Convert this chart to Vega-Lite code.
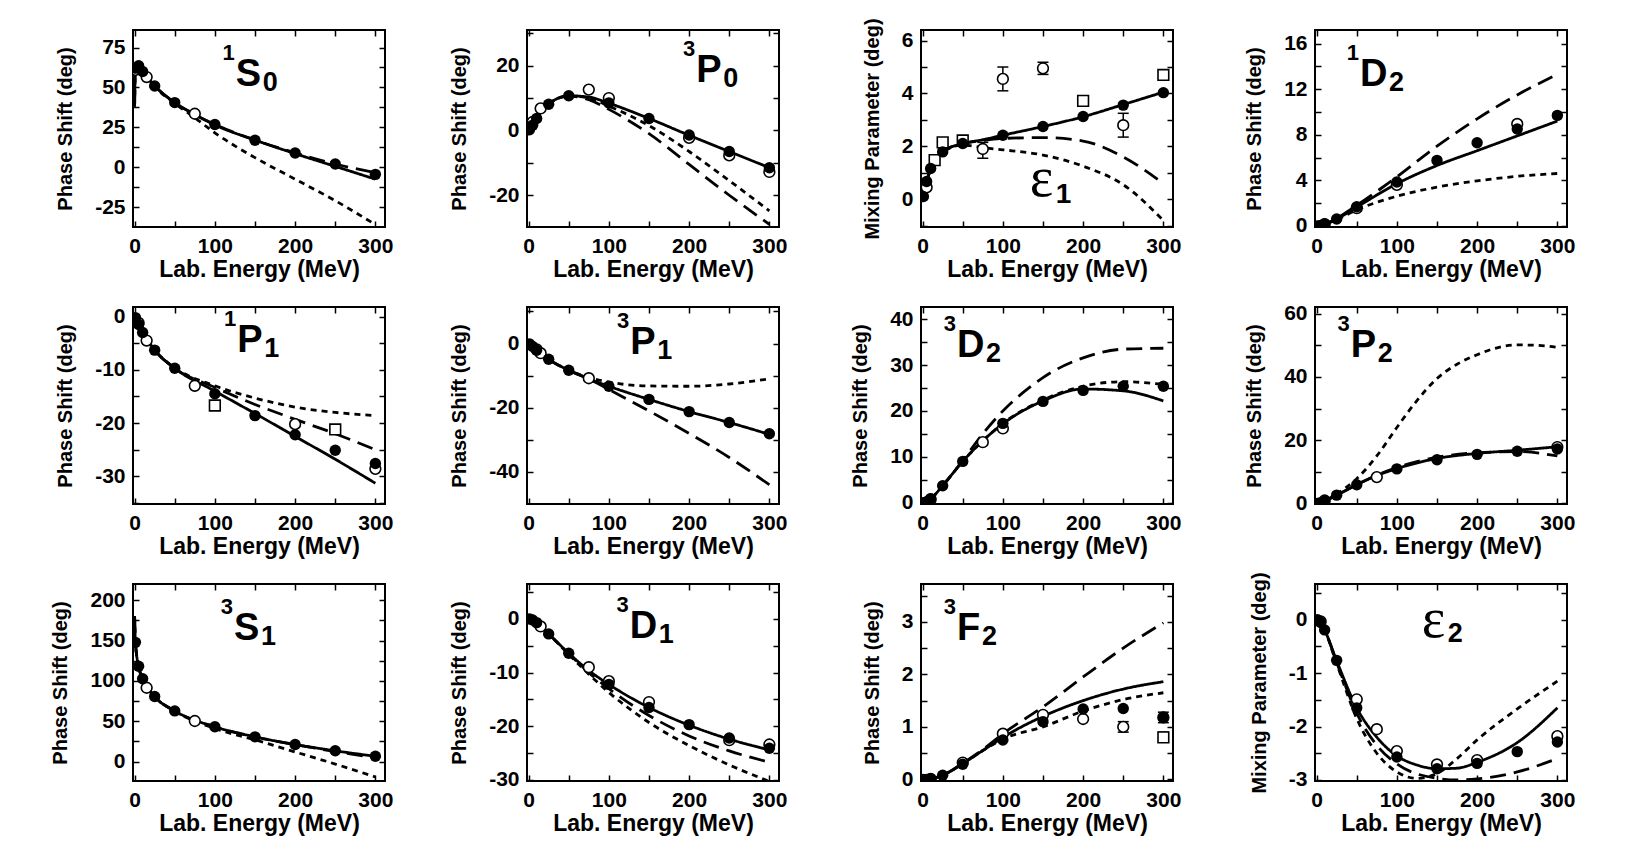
{
"$schema": "https://vega.github.io/schema/vega-lite/v6.json",
"background": "white",
"padding": {"left": 49, "top": 16, "right": 5, "bottom": 5},
"columns": 4,
"spacing": {"row": 80, "column": 142},
"bounds": "flush",
"datasets": {
"curves": [
{"p":"1S0","s":"solid","x":0,"y":38},{"p":"1S0","s":"solid","x":0.5,"y":55},{"p":"1S0","s":"solid","x":1,"y":62},{"p":"1S0","s":"solid","x":5,"y":63.5},{"p":"1S0","s":"solid","x":10,"y":60},{"p":"1S0","s":"solid","x":25,"y":51},{"p":"1S0","s":"solid","x":50,"y":40.5},{"p":"1S0","s":"solid","x":75,"y":33},{"p":"1S0","s":"solid","x":100,"y":26.5},{"p":"1S0","s":"solid","x":150,"y":17},{"p":"1S0","s":"solid","x":200,"y":8.5},{"p":"1S0","s":"solid","x":250,"y":0.5},{"p":"1S0","s":"solid","x":300,"y":-7.5},
{"p":"1S0","s":"dashed","x":0,"y":38},{"p":"1S0","s":"dashed","x":0.5,"y":55},{"p":"1S0","s":"dashed","x":1,"y":62},{"p":"1S0","s":"dashed","x":5,"y":63.5},{"p":"1S0","s":"dashed","x":10,"y":60},{"p":"1S0","s":"dashed","x":25,"y":51},{"p":"1S0","s":"dashed","x":50,"y":40.5},{"p":"1S0","s":"dashed","x":75,"y":33},{"p":"1S0","s":"dashed","x":100,"y":26.8},{"p":"1S0","s":"dashed","x":150,"y":17},{"p":"1S0","s":"dashed","x":200,"y":9},{"p":"1S0","s":"dashed","x":250,"y":2},{"p":"1S0","s":"dashed","x":300,"y":-3.5},
{"p":"1S0","s":"dotted","x":0,"y":38},{"p":"1S0","s":"dotted","x":0.5,"y":55},{"p":"1S0","s":"dotted","x":1,"y":62},{"p":"1S0","s":"dotted","x":5,"y":63.5},{"p":"1S0","s":"dotted","x":10,"y":60},{"p":"1S0","s":"dotted","x":25,"y":50.5},{"p":"1S0","s":"dotted","x":50,"y":40},{"p":"1S0","s":"dotted","x":75,"y":31},{"p":"1S0","s":"dotted","x":100,"y":21.5},{"p":"1S0","s":"dotted","x":150,"y":6},{"p":"1S0","s":"dotted","x":200,"y":-7.5},{"p":"1S0","s":"dotted","x":250,"y":-21},{"p":"1S0","s":"dotted","x":300,"y":-36},

{"p":"3P0","s":"solid","x":0,"y":0},{"p":"3P0","s":"solid","x":5,"y":1.7},{"p":"3P0","s":"solid","x":10,"y":3.7},{"p":"3P0","s":"solid","x":25,"y":8.1},{"p":"3P0","s":"solid","x":50,"y":10.7},{"p":"3P0","s":"solid","x":75,"y":10.3},{"p":"3P0","s":"solid","x":100,"y":8.4},{"p":"3P0","s":"solid","x":150,"y":3.7},{"p":"3P0","s":"solid","x":200,"y":-1.5},{"p":"3P0","s":"solid","x":250,"y":-6.5},{"p":"3P0","s":"solid","x":300,"y":-11.5},
{"p":"3P0","s":"dashed","x":0,"y":0},{"p":"3P0","s":"dashed","x":5,"y":1.7},{"p":"3P0","s":"dashed","x":10,"y":3.7},{"p":"3P0","s":"dashed","x":25,"y":8.1},{"p":"3P0","s":"dashed","x":50,"y":10.6},{"p":"3P0","s":"dashed","x":75,"y":9.5},{"p":"3P0","s":"dashed","x":100,"y":6.5},{"p":"3P0","s":"dashed","x":150,"y":-1},{"p":"3P0","s":"dashed","x":200,"y":-10.5},{"p":"3P0","s":"dashed","x":250,"y":-20},{"p":"3P0","s":"dashed","x":300,"y":-29},
{"p":"3P0","s":"dotted","x":0,"y":0},{"p":"3P0","s":"dotted","x":5,"y":1.7},{"p":"3P0","s":"dotted","x":10,"y":3.7},{"p":"3P0","s":"dotted","x":25,"y":8.1},{"p":"3P0","s":"dotted","x":50,"y":10.6},{"p":"3P0","s":"dotted","x":75,"y":10},{"p":"3P0","s":"dotted","x":100,"y":7.5},{"p":"3P0","s":"dotted","x":150,"y":1.5},{"p":"3P0","s":"dotted","x":200,"y":-6.5},{"p":"3P0","s":"dotted","x":250,"y":-15.5},{"p":"3P0","s":"dotted","x":300,"y":-24.8},

{"p":"E1","s":"solid","x":0,"y":0},{"p":"E1","s":"solid","x":1,"y":0.1},{"p":"E1","s":"solid","x":5,"y":0.65},{"p":"E1","s":"solid","x":10,"y":1.15},{"p":"E1","s":"solid","x":25,"y":1.8},{"p":"E1","s":"solid","x":50,"y":2.1},{"p":"E1","s":"solid","x":75,"y":2.25},{"p":"E1","s":"solid","x":100,"y":2.42},{"p":"E1","s":"solid","x":150,"y":2.75},{"p":"E1","s":"solid","x":200,"y":3.12},{"p":"E1","s":"solid","x":250,"y":3.58},{"p":"E1","s":"solid","x":300,"y":4.05},
{"p":"E1","s":"dashed","x":0,"y":0},{"p":"E1","s":"dashed","x":1,"y":0.1},{"p":"E1","s":"dashed","x":5,"y":0.65},{"p":"E1","s":"dashed","x":10,"y":1.15},{"p":"E1","s":"dashed","x":25,"y":1.8},{"p":"E1","s":"dashed","x":50,"y":2.1},{"p":"E1","s":"dashed","x":75,"y":2.22},{"p":"E1","s":"dashed","x":100,"y":2.3},{"p":"E1","s":"dashed","x":150,"y":2.33},{"p":"E1","s":"dashed","x":200,"y":2.2},{"p":"E1","s":"dashed","x":250,"y":1.6},{"p":"E1","s":"dashed","x":300,"y":0.6},
{"p":"E1","s":"dotted","x":0,"y":0},{"p":"E1","s":"dotted","x":1,"y":0.1},{"p":"E1","s":"dotted","x":5,"y":0.65},{"p":"E1","s":"dotted","x":10,"y":1.15},{"p":"E1","s":"dotted","x":25,"y":1.78},{"p":"E1","s":"dotted","x":50,"y":2.05},{"p":"E1","s":"dotted","x":75,"y":1.95},{"p":"E1","s":"dotted","x":100,"y":1.87},{"p":"E1","s":"dotted","x":150,"y":1.67},{"p":"E1","s":"dotted","x":200,"y":1.25},{"p":"E1","s":"dotted","x":250,"y":0.55},{"p":"E1","s":"dotted","x":300,"y":-0.8},

{"p":"1D2","s":"solid","x":0,"y":0},{"p":"1D2","s":"solid","x":10,"y":0.15},{"p":"1D2","s":"solid","x":25,"y":0.6},{"p":"1D2","s":"solid","x":50,"y":1.65},{"p":"1D2","s":"solid","x":100,"y":3.7},{"p":"1D2","s":"solid","x":150,"y":5.3},{"p":"1D2","s":"solid","x":200,"y":6.6},{"p":"1D2","s":"solid","x":250,"y":7.9},{"p":"1D2","s":"solid","x":300,"y":9.2},
{"p":"1D2","s":"dashed","x":0,"y":0},{"p":"1D2","s":"dashed","x":10,"y":0.15},{"p":"1D2","s":"dashed","x":25,"y":0.65},{"p":"1D2","s":"dashed","x":50,"y":1.8},{"p":"1D2","s":"dashed","x":100,"y":4.3},{"p":"1D2","s":"dashed","x":150,"y":7},{"p":"1D2","s":"dashed","x":200,"y":9.4},{"p":"1D2","s":"dashed","x":250,"y":11.5},{"p":"1D2","s":"dashed","x":300,"y":13.3},
{"p":"1D2","s":"dotted","x":0,"y":0},{"p":"1D2","s":"dotted","x":10,"y":0.15},{"p":"1D2","s":"dotted","x":25,"y":0.55},{"p":"1D2","s":"dotted","x":50,"y":1.4},{"p":"1D2","s":"dotted","x":100,"y":2.6},{"p":"1D2","s":"dotted","x":150,"y":3.4},{"p":"1D2","s":"dotted","x":200,"y":3.95},{"p":"1D2","s":"dotted","x":250,"y":4.35},{"p":"1D2","s":"dotted","x":300,"y":4.6},

{"p":"1P1","s":"solid","x":0,"y":0},{"p":"1P1","s":"solid","x":1,"y":-0.2},{"p":"1P1","s":"solid","x":5,"y":-1.5},{"p":"1P1","s":"solid","x":10,"y":-3},{"p":"1P1","s":"solid","x":25,"y":-6.3},{"p":"1P1","s":"solid","x":50,"y":-9.7},{"p":"1P1","s":"solid","x":100,"y":-14},{"p":"1P1","s":"solid","x":150,"y":-18.2},{"p":"1P1","s":"solid","x":200,"y":-22.5},{"p":"1P1","s":"solid","x":250,"y":-26.8},{"p":"1P1","s":"solid","x":300,"y":-31.3},
{"p":"1P1","s":"dashed","x":0,"y":0},{"p":"1P1","s":"dashed","x":1,"y":-0.2},{"p":"1P1","s":"dashed","x":5,"y":-1.5},{"p":"1P1","s":"dashed","x":10,"y":-3},{"p":"1P1","s":"dashed","x":25,"y":-6.3},{"p":"1P1","s":"dashed","x":50,"y":-9.7},{"p":"1P1","s":"dashed","x":100,"y":-13.3},{"p":"1P1","s":"dashed","x":150,"y":-16.5},{"p":"1P1","s":"dashed","x":200,"y":-19.3},{"p":"1P1","s":"dashed","x":250,"y":-22},{"p":"1P1","s":"dashed","x":300,"y":-25},
{"p":"1P1","s":"dotted","x":0,"y":0},{"p":"1P1","s":"dotted","x":1,"y":-0.2},{"p":"1P1","s":"dotted","x":5,"y":-1.5},{"p":"1P1","s":"dotted","x":10,"y":-3},{"p":"1P1","s":"dotted","x":25,"y":-6.3},{"p":"1P1","s":"dotted","x":50,"y":-9.6},{"p":"1P1","s":"dotted","x":100,"y":-13},{"p":"1P1","s":"dotted","x":150,"y":-15.3},{"p":"1P1","s":"dotted","x":200,"y":-17},{"p":"1P1","s":"dotted","x":250,"y":-18},{"p":"1P1","s":"dotted","x":300,"y":-18.6},

{"p":"3P1","s":"solid","x":0,"y":0},{"p":"3P1","s":"solid","x":10,"y":-2},{"p":"3P1","s":"solid","x":25,"y":-4.9},{"p":"3P1","s":"solid","x":50,"y":-8.3},{"p":"3P1","s":"solid","x":75,"y":-11},{"p":"3P1","s":"solid","x":100,"y":-13.3},{"p":"3P1","s":"solid","x":150,"y":-17.4},{"p":"3P1","s":"solid","x":200,"y":-21.2},{"p":"3P1","s":"solid","x":250,"y":-24.6},{"p":"3P1","s":"solid","x":300,"y":-28.3},
{"p":"3P1","s":"dashed","x":0,"y":0},{"p":"3P1","s":"dashed","x":10,"y":-2},{"p":"3P1","s":"dashed","x":25,"y":-4.9},{"p":"3P1","s":"dashed","x":50,"y":-8.3},{"p":"3P1","s":"dashed","x":75,"y":-11},{"p":"3P1","s":"dashed","x":100,"y":-14.3},{"p":"3P1","s":"dashed","x":150,"y":-21},{"p":"3P1","s":"dashed","x":200,"y":-28},{"p":"3P1","s":"dashed","x":250,"y":-35.5},{"p":"3P1","s":"dashed","x":300,"y":-44},
{"p":"3P1","s":"dotted","x":0,"y":0},{"p":"3P1","s":"dotted","x":10,"y":-2},{"p":"3P1","s":"dotted","x":25,"y":-4.9},{"p":"3P1","s":"dotted","x":50,"y":-8.3},{"p":"3P1","s":"dotted","x":75,"y":-10.6},{"p":"3P1","s":"dotted","x":100,"y":-12},{"p":"3P1","s":"dotted","x":150,"y":-13.2},{"p":"3P1","s":"dotted","x":200,"y":-13.3},{"p":"3P1","s":"dotted","x":250,"y":-12.6},{"p":"3P1","s":"dotted","x":300,"y":-11},

{"p":"3D2","s":"solid","x":0,"y":0},{"p":"3D2","s":"solid","x":10,"y":0.85},{"p":"3D2","s":"solid","x":25,"y":3.7},{"p":"3D2","s":"solid","x":50,"y":9},{"p":"3D2","s":"solid","x":75,"y":13.5},{"p":"3D2","s":"solid","x":100,"y":17.2},{"p":"3D2","s":"solid","x":150,"y":22.2},{"p":"3D2","s":"solid","x":200,"y":24.8},{"p":"3D2","s":"solid","x":250,"y":24.4},{"p":"3D2","s":"solid","x":300,"y":22.2},
{"p":"3D2","s":"dashed","x":0,"y":0},{"p":"3D2","s":"dashed","x":10,"y":0.85},{"p":"3D2","s":"dashed","x":25,"y":3.7},{"p":"3D2","s":"dashed","x":50,"y":9.2},{"p":"3D2","s":"dashed","x":75,"y":15},{"p":"3D2","s":"dashed","x":100,"y":20},{"p":"3D2","s":"dashed","x":125,"y":24},{"p":"3D2","s":"dashed","x":150,"y":27.3},{"p":"3D2","s":"dashed","x":200,"y":31.6},{"p":"3D2","s":"dashed","x":250,"y":33.5},{"p":"3D2","s":"dashed","x":300,"y":33.7},
{"p":"3D2","s":"dotted","x":0,"y":0},{"p":"3D2","s":"dotted","x":10,"y":0.85},{"p":"3D2","s":"dotted","x":25,"y":3.7},{"p":"3D2","s":"dotted","x":50,"y":9},{"p":"3D2","s":"dotted","x":75,"y":13.5},{"p":"3D2","s":"dotted","x":100,"y":17.3},{"p":"3D2","s":"dotted","x":150,"y":22.4},{"p":"3D2","s":"dotted","x":200,"y":25.4},{"p":"3D2","s":"dotted","x":250,"y":26.4},{"p":"3D2","s":"dotted","x":300,"y":25.8},

{"p":"3P2","s":"solid","x":0,"y":0},{"p":"3P2","s":"solid","x":10,"y":0.7},{"p":"3P2","s":"solid","x":25,"y":2.6},{"p":"3P2","s":"solid","x":50,"y":5.9},{"p":"3P2","s":"solid","x":75,"y":8.8},{"p":"3P2","s":"solid","x":100,"y":11},{"p":"3P2","s":"solid","x":150,"y":14.2},{"p":"3P2","s":"solid","x":200,"y":15.8},{"p":"3P2","s":"solid","x":250,"y":16.8},{"p":"3P2","s":"solid","x":300,"y":17.9},
{"p":"3P2","s":"dashed","x":0,"y":0},{"p":"3P2","s":"dashed","x":10,"y":0.7},{"p":"3P2","s":"dashed","x":25,"y":2.6},{"p":"3P2","s":"dashed","x":50,"y":5.9},{"p":"3P2","s":"dashed","x":75,"y":8.9},{"p":"3P2","s":"dashed","x":100,"y":11.3},{"p":"3P2","s":"dashed","x":150,"y":14.6},{"p":"3P2","s":"dashed","x":200,"y":16},{"p":"3P2","s":"dashed","x":250,"y":16.4},{"p":"3P2","s":"dashed","x":300,"y":15},
{"p":"3P2","s":"dotted","x":0,"y":0},{"p":"3P2","s":"dotted","x":10,"y":0.8},{"p":"3P2","s":"dotted","x":25,"y":3},{"p":"3P2","s":"dotted","x":50,"y":7.8},{"p":"3P2","s":"dotted","x":75,"y":15},{"p":"3P2","s":"dotted","x":100,"y":24},{"p":"3P2","s":"dotted","x":125,"y":32.5},{"p":"3P2","s":"dotted","x":150,"y":39.5},{"p":"3P2","s":"dotted","x":175,"y":44},{"p":"3P2","s":"dotted","x":200,"y":47},{"p":"3P2","s":"dotted","x":225,"y":49.2},{"p":"3P2","s":"dotted","x":250,"y":50.1},{"p":"3P2","s":"dotted","x":275,"y":50},{"p":"3P2","s":"dotted","x":300,"y":49.3},

{"p":"3S1","s":"solid","x":0,"y":180},{"p":"3S1","s":"solid","x":0.5,"y":160},{"p":"3S1","s":"solid","x":1,"y":148},{"p":"3S1","s":"solid","x":5,"y":118},{"p":"3S1","s":"solid","x":10,"y":102.6},{"p":"3S1","s":"solid","x":25,"y":80.6},{"p":"3S1","s":"solid","x":50,"y":62.8},{"p":"3S1","s":"solid","x":100,"y":43.2},{"p":"3S1","s":"solid","x":150,"y":30.7},{"p":"3S1","s":"solid","x":200,"y":21.2},{"p":"3S1","s":"solid","x":250,"y":13.4},{"p":"3S1","s":"solid","x":300,"y":6.6},
{"p":"3S1","s":"dashed","x":0,"y":180},{"p":"3S1","s":"dashed","x":0.5,"y":160},{"p":"3S1","s":"dashed","x":1,"y":148},{"p":"3S1","s":"dashed","x":5,"y":118},{"p":"3S1","s":"dashed","x":10,"y":102.6},{"p":"3S1","s":"dashed","x":25,"y":80.6},{"p":"3S1","s":"dashed","x":50,"y":62.8},{"p":"3S1","s":"dashed","x":100,"y":43.2},{"p":"3S1","s":"dashed","x":150,"y":30.5},{"p":"3S1","s":"dashed","x":200,"y":21},{"p":"3S1","s":"dashed","x":250,"y":12.5},{"p":"3S1","s":"dashed","x":300,"y":4.5},
{"p":"3S1","s":"dotted","x":0,"y":180},{"p":"3S1","s":"dotted","x":0.5,"y":160},{"p":"3S1","s":"dotted","x":1,"y":148},{"p":"3S1","s":"dotted","x":5,"y":118},{"p":"3S1","s":"dotted","x":10,"y":102.6},{"p":"3S1","s":"dotted","x":25,"y":80.6},{"p":"3S1","s":"dotted","x":50,"y":62.5},{"p":"3S1","s":"dotted","x":100,"y":41},{"p":"3S1","s":"dotted","x":150,"y":27},{"p":"3S1","s":"dotted","x":200,"y":12},{"p":"3S1","s":"dotted","x":250,"y":-3},{"p":"3S1","s":"dotted","x":300,"y":-19},

{"p":"3D1","s":"solid","x":0,"y":0},{"p":"3D1","s":"solid","x":10,"y":-0.7},{"p":"3D1","s":"solid","x":25,"y":-2.8},{"p":"3D1","s":"solid","x":50,"y":-6.4},{"p":"3D1","s":"solid","x":75,"y":-9.6},{"p":"3D1","s":"solid","x":100,"y":-12.2},{"p":"3D1","s":"solid","x":150,"y":-16.5},{"p":"3D1","s":"solid","x":200,"y":-19.8},{"p":"3D1","s":"solid","x":250,"y":-22.4},{"p":"3D1","s":"solid","x":300,"y":-24.4},
{"p":"3D1","s":"dashed","x":0,"y":0},{"p":"3D1","s":"dashed","x":10,"y":-0.7},{"p":"3D1","s":"dashed","x":25,"y":-2.8},{"p":"3D1","s":"dashed","x":50,"y":-6.5},{"p":"3D1","s":"dashed","x":75,"y":-10},{"p":"3D1","s":"dashed","x":100,"y":-13},{"p":"3D1","s":"dashed","x":150,"y":-18},{"p":"3D1","s":"dashed","x":200,"y":-21.8},{"p":"3D1","s":"dashed","x":250,"y":-24.6},{"p":"3D1","s":"dashed","x":300,"y":-26.7},
{"p":"3D1","s":"dotted","x":0,"y":0},{"p":"3D1","s":"dotted","x":10,"y":-0.7},{"p":"3D1","s":"dotted","x":25,"y":-2.8},{"p":"3D1","s":"dotted","x":50,"y":-6.6},{"p":"3D1","s":"dotted","x":75,"y":-10.3},{"p":"3D1","s":"dotted","x":100,"y":-13.7},{"p":"3D1","s":"dotted","x":150,"y":-19.3},{"p":"3D1","s":"dotted","x":200,"y":-23.6},{"p":"3D1","s":"dotted","x":250,"y":-27.2},{"p":"3D1","s":"dotted","x":300,"y":-30.3},

{"p":"3F2","s":"solid","x":0,"y":0},{"p":"3F2","s":"solid","x":10,"y":0.01},{"p":"3F2","s":"solid","x":25,"y":0.08},{"p":"3F2","s":"solid","x":50,"y":0.3},{"p":"3F2","s":"solid","x":75,"y":0.55},{"p":"3F2","s":"solid","x":100,"y":0.8},{"p":"3F2","s":"solid","x":150,"y":1.2},{"p":"3F2","s":"solid","x":200,"y":1.5},{"p":"3F2","s":"solid","x":250,"y":1.72},{"p":"3F2","s":"solid","x":300,"y":1.86},
{"p":"3F2","s":"dashed","x":0,"y":0},{"p":"3F2","s":"dashed","x":10,"y":0.01},{"p":"3F2","s":"dashed","x":25,"y":0.08},{"p":"3F2","s":"dashed","x":50,"y":0.31},{"p":"3F2","s":"dashed","x":75,"y":0.57},{"p":"3F2","s":"dashed","x":100,"y":0.87},{"p":"3F2","s":"dashed","x":150,"y":1.38},{"p":"3F2","s":"dashed","x":200,"y":1.95},{"p":"3F2","s":"dashed","x":250,"y":2.5},{"p":"3F2","s":"dashed","x":300,"y":2.98},
{"p":"3F2","s":"dotted","x":0,"y":0},{"p":"3F2","s":"dotted","x":10,"y":0.01},{"p":"3F2","s":"dotted","x":25,"y":0.08},{"p":"3F2","s":"dotted","x":50,"y":0.3},{"p":"3F2","s":"dotted","x":75,"y":0.55},{"p":"3F2","s":"dotted","x":100,"y":0.77},{"p":"3F2","s":"dotted","x":150,"y":1},{"p":"3F2","s":"dotted","x":200,"y":1.3},{"p":"3F2","s":"dotted","x":250,"y":1.52},{"p":"3F2","s":"dotted","x":300,"y":1.65},

{"p":"E2","s":"solid","x":0,"y":0},{"p":"E2","s":"solid","x":10,"y":-0.2},{"p":"E2","s":"solid","x":25,"y":-0.77},{"p":"E2","s":"solid","x":50,"y":-1.65},{"p":"E2","s":"solid","x":75,"y":-2.2},{"p":"E2","s":"solid","x":100,"y":-2.55},{"p":"E2","s":"solid","x":125,"y":-2.72},{"p":"E2","s":"solid","x":150,"y":-2.79},{"p":"E2","s":"solid","x":175,"y":-2.78},{"p":"E2","s":"solid","x":200,"y":-2.67},{"p":"E2","s":"solid","x":250,"y":-2.3},{"p":"E2","s":"solid","x":300,"y":-1.65},
{"p":"E2","s":"dashed","x":0,"y":0},{"p":"E2","s":"dashed","x":10,"y":-0.2},{"p":"E2","s":"dashed","x":25,"y":-0.8},{"p":"E2","s":"dashed","x":50,"y":-1.75},{"p":"E2","s":"dashed","x":75,"y":-2.35},{"p":"E2","s":"dashed","x":100,"y":-2.7},{"p":"E2","s":"dashed","x":150,"y":-2.97},{"p":"E2","s":"dashed","x":175,"y":-3},{"p":"E2","s":"dashed","x":200,"y":-2.98},{"p":"E2","s":"dashed","x":250,"y":-2.85},{"p":"E2","s":"dashed","x":300,"y":-2.6},
{"p":"E2","s":"dotted","x":0,"y":0},{"p":"E2","s":"dotted","x":10,"y":-0.2},{"p":"E2","s":"dotted","x":25,"y":-0.82},{"p":"E2","s":"dotted","x":50,"y":-1.85},{"p":"E2","s":"dotted","x":75,"y":-2.5},{"p":"E2","s":"dotted","x":100,"y":-2.85},{"p":"E2","s":"dotted","x":125,"y":-2.97},{"p":"E2","s":"dotted","x":150,"y":-2.88},{"p":"E2","s":"dotted","x":175,"y":-2.6},{"p":"E2","s":"dotted","x":200,"y":-2.25},{"p":"E2","s":"dotted","x":250,"y":-1.67},{"p":"E2","s":"dotted","x":300,"y":-1.15}
],
"pts": [
{"p":"1S0","k":"filled","x":1,"y":62.1},{"p":"1S0","k":"filled","x":5,"y":63.6},{"p":"1S0","k":"filled","x":10,"y":60},{"p":"1S0","k":"filled","x":25,"y":50.9},{"p":"1S0","k":"filled","x":50,"y":40.5},{"p":"1S0","k":"filled","x":100,"y":26.8},{"p":"1S0","k":"filled","x":150,"y":16.9},{"p":"1S0","k":"filled","x":200,"y":8.9},{"p":"1S0","k":"filled","x":250,"y":2},{"p":"1S0","k":"filled","x":300,"y":-4.5},
{"p":"1S0","k":"circle","x":1,"y":61},{"p":"1S0","k":"circle","x":15,"y":56.5},{"p":"1S0","k":"circle","x":75,"y":33.5},
{"p":"3P0","k":"filled","x":1,"y":0.2},{"p":"3P0","k":"filled","x":5,"y":1.6},{"p":"3P0","k":"filled","x":10,"y":3.7},{"p":"3P0","k":"filled","x":25,"y":8.1},{"p":"3P0","k":"filled","x":50,"y":10.7},{"p":"3P0","k":"filled","x":100,"y":8.5},{"p":"3P0","k":"filled","x":150,"y":3.7},{"p":"3P0","k":"filled","x":200,"y":-1.4},{"p":"3P0","k":"filled","x":250,"y":-6.5},{"p":"3P0","k":"filled","x":300,"y":-11.5},
{"p":"3P0","k":"circle","x":5,"y":2.6},{"p":"3P0","k":"circle","x":15,"y":6.8},{"p":"3P0","k":"circle","x":75,"y":12.6},{"p":"3P0","k":"circle","x":100,"y":10},{"p":"3P0","k":"circle","x":200,"y":-2.3},{"p":"3P0","k":"circle","x":250,"y":-7.7},{"p":"3P0","k":"circle","x":300,"y":-12.8},
{"p":"E1","k":"filled","x":1,"y":0.1},{"p":"E1","k":"filled","x":5,"y":0.67},{"p":"E1","k":"filled","x":10,"y":1.16},{"p":"E1","k":"filled","x":25,"y":1.79},{"p":"E1","k":"filled","x":50,"y":2.11},{"p":"E1","k":"filled","x":100,"y":2.42},{"p":"E1","k":"filled","x":150,"y":2.75},{"p":"E1","k":"filled","x":200,"y":3.13},{"p":"E1","k":"filled","x":250,"y":3.56},{"p":"E1","k":"filled","x":300,"y":4.03},
{"p":"E1","k":"circle","x":5,"y":0.45},{"p":"E1","k":"circle","x":75,"y":1.9,"lo":1.55,"hi":2.15},{"p":"E1","k":"circle","x":100,"y":4.55,"lo":4.1,"hi":5.0},{"p":"E1","k":"circle","x":150,"y":4.95,"lo":4.72,"hi":5.18},{"p":"E1","k":"circle","x":250,"y":2.8,"lo":2.35,"hi":3.25},
{"p":"E1","k":"square","x":15,"y":1.48},{"p":"E1","k":"square","x":25,"y":2.15,"lo":2.05,"hi":2.27},{"p":"E1","k":"square","x":50,"y":2.22,"lo":2.08,"hi":2.38},{"p":"E1","k":"square","x":200,"y":3.72,"lo":3.62,"hi":3.82},{"p":"E1","k":"square","x":300,"y":4.7,"lo":4.55,"hi":4.85},
{"p":"1D2","k":"filled","x":1,"y":0},{"p":"1D2","k":"filled","x":5,"y":0.04},{"p":"1D2","k":"filled","x":10,"y":0.17},{"p":"1D2","k":"filled","x":25,"y":0.6},{"p":"1D2","k":"filled","x":50,"y":1.68},{"p":"1D2","k":"filled","x":100,"y":3.85},{"p":"1D2","k":"filled","x":150,"y":5.75},{"p":"1D2","k":"filled","x":200,"y":7.3},{"p":"1D2","k":"filled","x":250,"y":8.5},{"p":"1D2","k":"filled","x":300,"y":9.7},
{"p":"1D2","k":"circle","x":10,"y":0.15},{"p":"1D2","k":"circle","x":50,"y":1.55},{"p":"1D2","k":"circle","x":100,"y":3.6},{"p":"1D2","k":"circle","x":250,"y":8.95},
{"p":"1P1","k":"filled","x":1,"y":-0.2},{"p":"1P1","k":"filled","x":5,"y":-1.5},{"p":"1P1","k":"filled","x":10,"y":-3},{"p":"1P1","k":"filled","x":25,"y":-6.3},{"p":"1P1","k":"filled","x":50,"y":-9.7},{"p":"1P1","k":"filled","x":100,"y":-14.5},{"p":"1P1","k":"filled","x":150,"y":-18.6},{"p":"1P1","k":"filled","x":200,"y":-22.2},{"p":"1P1","k":"filled","x":250,"y":-25.1},{"p":"1P1","k":"filled","x":300,"y":-27.6},
{"p":"1P1","k":"circle","x":5,"y":-1.2},{"p":"1P1","k":"circle","x":15,"y":-4.5},{"p":"1P1","k":"circle","x":75,"y":-13},{"p":"1P1","k":"circle","x":200,"y":-20.2},{"p":"1P1","k":"circle","x":300,"y":-28.6},
{"p":"1P1","k":"square","x":100,"y":-16.7},{"p":"1P1","k":"square","x":250,"y":-21.2,"lo":-21.7,"hi":-20.7},
{"p":"3P1","k":"filled","x":1,"y":-0.1},{"p":"3P1","k":"filled","x":5,"y":-0.9},{"p":"3P1","k":"filled","x":10,"y":-2.1},{"p":"3P1","k":"filled","x":25,"y":-4.9},{"p":"3P1","k":"filled","x":50,"y":-8.3},{"p":"3P1","k":"filled","x":100,"y":-13.3},{"p":"3P1","k":"filled","x":150,"y":-17.4},{"p":"3P1","k":"filled","x":200,"y":-21.2},{"p":"3P1","k":"filled","x":250,"y":-24.6},{"p":"3P1","k":"filled","x":300,"y":-28.1},
{"p":"3P1","k":"circle","x":10,"y":-1.8},{"p":"3P1","k":"circle","x":15,"y":-3},{"p":"3P1","k":"circle","x":75,"y":-10.8},
{"p":"3D2","k":"filled","x":1,"y":0},{"p":"3D2","k":"filled","x":5,"y":0.2},{"p":"3D2","k":"filled","x":10,"y":0.85},{"p":"3D2","k":"filled","x":25,"y":3.7},{"p":"3D2","k":"filled","x":50,"y":9},{"p":"3D2","k":"filled","x":100,"y":17.3},{"p":"3D2","k":"filled","x":150,"y":22.1},{"p":"3D2","k":"filled","x":200,"y":24.5},{"p":"3D2","k":"filled","x":250,"y":25.4},{"p":"3D2","k":"filled","x":300,"y":25.4},
{"p":"3D2","k":"circle","x":10,"y":0.7},{"p":"3D2","k":"circle","x":75,"y":13.2},{"p":"3D2","k":"circle","x":100,"y":16.2},
{"p":"3P2","k":"filled","x":1,"y":0},{"p":"3P2","k":"filled","x":5,"y":0.25},{"p":"3P2","k":"filled","x":10,"y":0.7},{"p":"3P2","k":"filled","x":25,"y":2.6},{"p":"3P2","k":"filled","x":50,"y":5.9},{"p":"3P2","k":"filled","x":100,"y":10.9},{"p":"3P2","k":"filled","x":150,"y":13.8},{"p":"3P2","k":"filled","x":200,"y":15.5},{"p":"3P2","k":"filled","x":250,"y":16.5},{"p":"3P2","k":"filled","x":300,"y":17.2},
{"p":"3P2","k":"circle","x":10,"y":0.9},{"p":"3P2","k":"circle","x":75,"y":8.3},{"p":"3P2","k":"circle","x":300,"y":17.8},
{"p":"3S1","k":"filled","x":1,"y":147.7},{"p":"3S1","k":"filled","x":5,"y":118.2},{"p":"3S1","k":"filled","x":10,"y":102.6},{"p":"3S1","k":"filled","x":25,"y":80.6},{"p":"3S1","k":"filled","x":50,"y":62.8},{"p":"3S1","k":"filled","x":100,"y":43.2},{"p":"3S1","k":"filled","x":150,"y":30.7},{"p":"3S1","k":"filled","x":200,"y":21.2},{"p":"3S1","k":"filled","x":250,"y":13.4},{"p":"3S1","k":"filled","x":300,"y":6.6},
{"p":"3S1","k":"circle","x":15,"y":91.5},{"p":"3S1","k":"circle","x":75,"y":50.3},
{"p":"3D1","k":"filled","x":1,"y":0},{"p":"3D1","k":"filled","x":5,"y":-0.2},{"p":"3D1","k":"filled","x":10,"y":-0.7},{"p":"3D1","k":"filled","x":25,"y":-2.8},{"p":"3D1","k":"filled","x":50,"y":-6.4},{"p":"3D1","k":"filled","x":100,"y":-12.2},{"p":"3D1","k":"filled","x":150,"y":-16.5},{"p":"3D1","k":"filled","x":200,"y":-19.7},{"p":"3D1","k":"filled","x":250,"y":-22.2},{"p":"3D1","k":"filled","x":300,"y":-24.1},
{"p":"3D1","k":"circle","x":15,"y":-1.4},{"p":"3D1","k":"circle","x":75,"y":-9},{"p":"3D1","k":"circle","x":100,"y":-11.6},{"p":"3D1","k":"circle","x":150,"y":-15.5},{"p":"3D1","k":"circle","x":250,"y":-22.6},{"p":"3D1","k":"circle","x":300,"y":-23.4},
{"p":"3F2","k":"filled","x":1,"y":0},{"p":"3F2","k":"filled","x":5,"y":0},{"p":"3F2","k":"filled","x":10,"y":0.01},{"p":"3F2","k":"filled","x":25,"y":0.08},{"p":"3F2","k":"filled","x":50,"y":0.29},{"p":"3F2","k":"filled","x":100,"y":0.75},{"p":"3F2","k":"filled","x":150,"y":1.1},{"p":"3F2","k":"filled","x":200,"y":1.34},{"p":"3F2","k":"filled","x":250,"y":1.35},{"p":"3F2","k":"filled","x":300,"y":1.18},
{"p":"3F2","k":"circle","x":10,"y":0.01},{"p":"3F2","k":"circle","x":50,"y":0.32},{"p":"3F2","k":"circle","x":100,"y":0.87},{"p":"3F2","k":"circle","x":150,"y":1.23},{"p":"3F2","k":"circle","x":200,"y":1.15},{"p":"3F2","k":"circle","x":250,"y":1,"lo":0.9,"hi":1.1},{"p":"3F2","k":"circle","x":300,"y":1.18,"lo":1.08,"hi":1.28},
{"p":"3F2","k":"square","x":300,"y":0.8,"lo":0.72,"hi":0.9},
{"p":"E2","k":"filled","x":1,"y":0},{"p":"E2","k":"filled","x":5,"y":-0.05},{"p":"E2","k":"filled","x":10,"y":-0.19},{"p":"E2","k":"filled","x":25,"y":-0.76},{"p":"E2","k":"filled","x":50,"y":-1.65},{"p":"E2","k":"filled","x":100,"y":-2.57},{"p":"E2","k":"filled","x":150,"y":-2.79},{"p":"E2","k":"filled","x":200,"y":-2.69},{"p":"E2","k":"filled","x":250,"y":-2.47},{"p":"E2","k":"filled","x":300,"y":-2.29},
{"p":"E2","k":"circle","x":5,"y":-0.03},{"p":"E2","k":"circle","x":50,"y":-1.49},{"p":"E2","k":"circle","x":75,"y":-2.05},{"p":"E2","k":"circle","x":100,"y":-2.46},{"p":"E2","k":"circle","x":150,"y":-2.71},{"p":"E2","k":"circle","x":200,"y":-2.63},{"p":"E2","k":"circle","x":300,"y":-2.18}
]
},
"concat": [
{"width":252,"height":197,"resolve":{"axis":{"x":"independent","y":"independent"}},"layer":[
 {"data":{"name":"curves"},"transform":[{"filter":"datum.p === '1S0'"}],"mark":{"type":"line","clip":true,"interpolate":"monotone","strokeWidth":2.8,"color":"black"},
  "encoding":{"x":{"field":"x","type":"quantitative","scale":{"domain":[-2,312],"nice":false},"axis":{"orient":"bottom","values":[0,50,100,150,200,250,300],"labelExpr":"datum.value % 100 === 0 ? '' + datum.value : ''","title":"Lab. Energy (MeV)"}},
   "y":{"field":"y","type":"quantitative","scale":{"domain":[-37.5,86],"nice":false,"zero":false},"axis":{"orient":"left","values":[-25,-12.5,0,12.5,25,37.5,50,62.5,75],"labelExpr":"datum.value % 25 === 0 ? '' + datum.value : ''","title":"Phase Shift (deg)"}},
   "strokeDash":{"field":"s","type":"nominal","scale":{"domain":["solid","dashed","dotted"],"range":[[1,0],[16,8],[6,5]]},"legend":null}}},
 {"data":{"name":"pts"},"transform":[{"filter":"datum.p === '1S0' && datum.k !== 'filled'"}],"mark":{"type":"point","clip":true,"filled":true,"fill":"white","stroke":"black","strokeWidth":1.6,"size":115,"opacity":1},
  "encoding":{"x":{"field":"x","type":"quantitative","axis":null},"y":{"field":"y","type":"quantitative","axis":null},"shape":{"field":"k","type":"nominal","scale":{"domain":["circle","square"],"range":["circle","square"]},"legend":null}}},
 {"data":{"name":"pts"},"transform":[{"filter":"datum.p === '1S0' && datum.k === 'filled'"}],"mark":{"type":"point","clip":true,"filled":true,"fill":"black","size":130,"opacity":1},
  "encoding":{"x":{"field":"x","type":"quantitative","axis":{"orient":"top","values":[0,50,100,150,200,250,300],"labels":false,"title":null}},"y":{"field":"y","type":"quantitative","axis":{"orient":"right","values":[-25,-12.5,0,12.5,25,37.5,50,62.5,75],"labels":false,"title":null}}}},
 {"data":{"values":[{}]},"mark":{"type":"text","text":"1","font":"Liberation Sans","fontWeight":"bold","fontSize":22,"align":"right","baseline":"alphabetic","dx":-1,"dy":-26},"encoding":{"x":{"datum":126,"type":"quantitative","axis":null},"y":{"datum":51,"type":"quantitative","axis":null}}},
 {"data":{"values":[{}]},"mark":{"type":"text","text":"S","font":"Liberation Sans","fontWeight":"bold","fontSize":38,"align":"left","baseline":"alphabetic"},"encoding":{"x":{"datum":126,"type":"quantitative","axis":null},"y":{"datum":51,"type":"quantitative","axis":null}}},
 {"data":{"values":[{}]},"mark":{"type":"text","text":"0","font":"Liberation Sans","fontWeight":"bold","fontSize":27,"align":"left","baseline":"alphabetic","dx":27,"dy":5},"encoding":{"x":{"datum":126,"type":"quantitative","axis":null},"y":{"datum":51,"type":"quantitative","axis":null}}}
]},
{"width":252,"height":197,"resolve":{"axis":{"x":"independent","y":"independent"}},"layer":[
 {"data":{"name":"curves"},"transform":[{"filter":"datum.p === '3P0'"}],"mark":{"type":"line","clip":true,"interpolate":"monotone","strokeWidth":2.8,"color":"black"},
  "encoding":{"x":{"field":"x","type":"quantitative","scale":{"domain":[-2,312],"nice":false},"axis":{"orient":"bottom","values":[0,50,100,150,200,250,300],"labelExpr":"datum.value % 100 === 0 ? '' + datum.value : ''","title":"Lab. Energy (MeV)"}},
   "y":{"field":"y","type":"quantitative","scale":{"domain":[-29.8,31],"nice":false,"zero":false},"axis":{"orient":"left","values":[-20,-10,0,10,20,30],"labelExpr":"datum.value % 20 === 0 ? '' + datum.value : ''","title":"Phase Shift (deg)"}},
   "strokeDash":{"field":"s","type":"nominal","scale":{"domain":["solid","dashed","dotted"],"range":[[1,0],[16,8],[6,5]]},"legend":null}}},
 {"data":{"name":"pts"},"transform":[{"filter":"datum.p === '3P0' && datum.k !== 'filled'"}],"mark":{"type":"point","clip":true,"filled":true,"fill":"white","stroke":"black","strokeWidth":1.6,"size":115,"opacity":1},
  "encoding":{"x":{"field":"x","type":"quantitative","axis":null},"y":{"field":"y","type":"quantitative","axis":null},"shape":{"field":"k","type":"nominal","scale":{"domain":["circle","square"],"range":["circle","square"]},"legend":null}}},
 {"data":{"name":"pts"},"transform":[{"filter":"datum.p === '3P0' && datum.k === 'filled'"}],"mark":{"type":"point","clip":true,"filled":true,"fill":"black","size":130,"opacity":1},
  "encoding":{"x":{"field":"x","type":"quantitative","axis":{"orient":"top","values":[0,50,100,150,200,250,300],"labels":false,"title":null}},"y":{"field":"y","type":"quantitative","axis":{"orient":"right","values":[-20,-10,0,10,20,30],"labels":false,"title":null}}}},
 {"data":{"values":[{}]},"mark":{"type":"text","text":"3","font":"Liberation Sans","fontWeight":"bold","fontSize":22,"align":"right","baseline":"alphabetic","dx":-1,"dy":-26},"encoding":{"x":{"datum":209,"type":"quantitative","axis":null},"y":{"datum":14.8,"type":"quantitative","axis":null}}},
 {"data":{"values":[{}]},"mark":{"type":"text","text":"P","font":"Liberation Sans","fontWeight":"bold","fontSize":38,"align":"left","baseline":"alphabetic"},"encoding":{"x":{"datum":209,"type":"quantitative","axis":null},"y":{"datum":14.8,"type":"quantitative","axis":null}}},
 {"data":{"values":[{}]},"mark":{"type":"text","text":"0","font":"Liberation Sans","fontWeight":"bold","fontSize":27,"align":"left","baseline":"alphabetic","dx":27,"dy":5},"encoding":{"x":{"datum":209,"type":"quantitative","axis":null},"y":{"datum":14.8,"type":"quantitative","axis":null}}}
]},
{"width":252,"height":197,"resolve":{"axis":{"x":"independent","y":"independent"}},"layer":[
 {"data":{"name":"curves"},"transform":[{"filter":"datum.p === 'E1'"}],"mark":{"type":"line","clip":true,"interpolate":"monotone","strokeWidth":2.8,"color":"black"},
  "encoding":{"x":{"field":"x","type":"quantitative","scale":{"domain":[-2,312],"nice":false},"axis":{"orient":"bottom","values":[0,50,100,150,200,250,300],"labelExpr":"datum.value % 100 === 0 ? '' + datum.value : ''","title":"Lab. Energy (MeV)"}},
   "y":{"field":"y","type":"quantitative","scale":{"domain":[-1.05,6.4],"nice":false,"zero":false},"axis":{"orient":"left","values":[-1,0,1,2,3,4,5,6],"labelExpr":"datum.value % 2 === 0 ? '' + datum.value : ''","title":"Mixing Parameter (deg)"}},
   "strokeDash":{"field":"s","type":"nominal","scale":{"domain":["solid","dashed","dotted"],"range":[[1,0],[16,8],[6,5]]},"legend":null}}},
 {"data":{"name":"pts"},"transform":[{"filter":"datum.p === 'E1' && isValid(datum.lo)"}],"mark":{"type":"rule","clip":true,"color":"black","strokeWidth":1.5},
  "encoding":{"x":{"field":"x","type":"quantitative","axis":null},"y":{"field":"lo","type":"quantitative","axis":null},"y2":{"field":"hi"}}},
 {"data":{"name":"pts"},"transform":[{"filter":"datum.p === 'E1' && isValid(datum.lo)"},{"fold":["lo","hi"],"as":["w","cy"]}],"mark":{"type":"point","clip":true,"shape":"M-1,0L1,0","size":121,"stroke":"black","strokeWidth":1.5,"opacity":1},
  "encoding":{"x":{"field":"x","type":"quantitative","axis":null},"y":{"field":"cy","type":"quantitative","axis":null}}},
 {"data":{"name":"pts"},"transform":[{"filter":"datum.p === 'E1' && datum.k !== 'filled'"}],"mark":{"type":"point","clip":true,"filled":true,"fill":"white","stroke":"black","strokeWidth":1.6,"size":115,"opacity":1},
  "encoding":{"x":{"field":"x","type":"quantitative","axis":null},"y":{"field":"y","type":"quantitative","axis":null},"shape":{"field":"k","type":"nominal","scale":{"domain":["circle","square"],"range":["circle","square"]},"legend":null}}},
 {"data":{"name":"pts"},"transform":[{"filter":"datum.p === 'E1' && datum.k === 'filled'"}],"mark":{"type":"point","clip":true,"filled":true,"fill":"black","size":130,"opacity":1},
  "encoding":{"x":{"field":"x","type":"quantitative","axis":{"orient":"top","values":[0,50,100,150,200,250,300],"labels":false,"title":null}},"y":{"field":"y","type":"quantitative","axis":{"orient":"right","values":[-1,0,1,2,3,4,5,6],"labels":false,"title":null}}}},
 {"data":{"values":[{}]},"mark":{"type":"text","text":"ε","font":"Liberation Serif","fontSize":56,"align":"left","baseline":"alphabetic"},"encoding":{"x":{"datum":133.6,"type":"quantitative","axis":null},"y":{"datum":0.12,"type":"quantitative","axis":null}}},
 {"data":{"values":[{}]},"mark":{"type":"text","text":"1","font":"Liberation Sans","fontWeight":"bold","fontSize":28,"align":"left","baseline":"alphabetic","dx":26,"dy":7},"encoding":{"x":{"datum":133.6,"type":"quantitative","axis":null},"y":{"datum":0.12,"type":"quantitative","axis":null}}}
]},
{"width":252,"height":197,"resolve":{"axis":{"x":"independent","y":"independent"}},"layer":[
 {"data":{"name":"curves"},"transform":[{"filter":"datum.p === '1D2'"}],"mark":{"type":"line","clip":true,"interpolate":"monotone","strokeWidth":2.8,"color":"black"},
  "encoding":{"x":{"field":"x","type":"quantitative","scale":{"domain":[-2,312],"nice":false},"axis":{"orient":"bottom","values":[0,50,100,150,200,250,300],"labelExpr":"datum.value % 100 === 0 ? '' + datum.value : ''","title":"Lab. Energy (MeV)"}},
   "y":{"field":"y","type":"quantitative","scale":{"domain":[-0.1,17.2],"nice":false,"zero":false},"axis":{"orient":"left","values":[0,2,4,6,8,10,12,14,16],"labelExpr":"datum.value % 4 === 0 ? '' + datum.value : ''","title":"Phase Shift (deg)"}},
   "strokeDash":{"field":"s","type":"nominal","scale":{"domain":["solid","dashed","dotted"],"range":[[1,0],[16,8],[6,5]]},"legend":null}}},
 {"data":{"name":"pts"},"transform":[{"filter":"datum.p === '1D2' && datum.k !== 'filled'"}],"mark":{"type":"point","clip":true,"filled":true,"fill":"white","stroke":"black","strokeWidth":1.6,"size":115,"opacity":1},
  "encoding":{"x":{"field":"x","type":"quantitative","axis":null},"y":{"field":"y","type":"quantitative","axis":null},"shape":{"field":"k","type":"nominal","scale":{"domain":["circle","square"],"range":["circle","square"]},"legend":null}}},
 {"data":{"name":"pts"},"transform":[{"filter":"datum.p === '1D2' && datum.k === 'filled'"}],"mark":{"type":"point","clip":true,"filled":true,"fill":"black","size":130,"opacity":1},
  "encoding":{"x":{"field":"x","type":"quantitative","axis":{"orient":"top","values":[0,50,100,150,200,250,300],"labels":false,"title":null}},"y":{"field":"y","type":"quantitative","axis":{"orient":"right","values":[0,2,4,6,8,10,12,14,16],"labels":false,"title":null}}}},
 {"data":{"values":[{}]},"mark":{"type":"text","text":"1","font":"Liberation Sans","fontWeight":"bold","fontSize":22,"align":"right","baseline":"alphabetic","dx":-1,"dy":-26},"encoding":{"x":{"datum":54,"type":"quantitative","axis":null},"y":{"datum":12.3,"type":"quantitative","axis":null}}},
 {"data":{"values":[{}]},"mark":{"type":"text","text":"D","font":"Liberation Sans","fontWeight":"bold","fontSize":38,"align":"left","baseline":"alphabetic"},"encoding":{"x":{"datum":54,"type":"quantitative","axis":null},"y":{"datum":12.3,"type":"quantitative","axis":null}}},
 {"data":{"values":[{}]},"mark":{"type":"text","text":"2","font":"Liberation Sans","fontWeight":"bold","fontSize":27,"align":"left","baseline":"alphabetic","dx":29,"dy":5},"encoding":{"x":{"datum":54,"type":"quantitative","axis":null},"y":{"datum":12.3,"type":"quantitative","axis":null}}}
]},
{"width":252,"height":197,"resolve":{"axis":{"x":"independent","y":"independent"}},"layer":[
 {"data":{"name":"curves"},"transform":[{"filter":"datum.p === '1P1'"}],"mark":{"type":"line","clip":true,"interpolate":"monotone","strokeWidth":2.8,"color":"black"},
  "encoding":{"x":{"field":"x","type":"quantitative","scale":{"domain":[-2,312],"nice":false},"axis":{"orient":"bottom","values":[0,50,100,150,200,250,300],"labelExpr":"datum.value % 100 === 0 ? '' + datum.value : ''","title":"Lab. Energy (MeV)"}},
   "y":{"field":"y","type":"quantitative","scale":{"domain":[-35.2,1.8],"nice":false,"zero":false},"axis":{"orient":"left","values":[-35,-30,-25,-20,-15,-10,-5,0],"labelExpr":"datum.value % 10 === 0 ? '' + datum.value : ''","title":"Phase Shift (deg)"}},
   "strokeDash":{"field":"s","type":"nominal","scale":{"domain":["solid","dashed","dotted"],"range":[[1,0],[16,8],[6,5]]},"legend":null}}},
 {"data":{"name":"pts"},"transform":[{"filter":"datum.p === '1P1' && isValid(datum.lo)"}],"mark":{"type":"rule","clip":true,"color":"black","strokeWidth":1.5},
  "encoding":{"x":{"field":"x","type":"quantitative","axis":null},"y":{"field":"lo","type":"quantitative","axis":null},"y2":{"field":"hi"}}},
 {"data":{"name":"pts"},"transform":[{"filter":"datum.p === '1P1' && isValid(datum.lo)"},{"fold":["lo","hi"],"as":["w","cy"]}],"mark":{"type":"point","clip":true,"shape":"M-1,0L1,0","size":121,"stroke":"black","strokeWidth":1.5,"opacity":1},
  "encoding":{"x":{"field":"x","type":"quantitative","axis":null},"y":{"field":"cy","type":"quantitative","axis":null}}},
 {"data":{"name":"pts"},"transform":[{"filter":"datum.p === '1P1' && datum.k !== 'filled'"}],"mark":{"type":"point","clip":true,"filled":true,"fill":"white","stroke":"black","strokeWidth":1.6,"size":115,"opacity":1},
  "encoding":{"x":{"field":"x","type":"quantitative","axis":null},"y":{"field":"y","type":"quantitative","axis":null},"shape":{"field":"k","type":"nominal","scale":{"domain":["circle","square"],"range":["circle","square"]},"legend":null}}},
 {"data":{"name":"pts"},"transform":[{"filter":"datum.p === '1P1' && datum.k === 'filled'"}],"mark":{"type":"point","clip":true,"filled":true,"fill":"black","size":130,"opacity":1},
  "encoding":{"x":{"field":"x","type":"quantitative","axis":{"orient":"top","values":[0,50,100,150,200,250,300],"labels":false,"title":null}},"y":{"field":"y","type":"quantitative","axis":{"orient":"right","values":[-35,-30,-25,-20,-15,-10,-5,0],"labels":false,"title":null}}}},
 {"data":{"values":[{}]},"mark":{"type":"text","text":"1","font":"Liberation Sans","fontWeight":"bold","fontSize":22,"align":"right","baseline":"alphabetic","dx":-1,"dy":-26},"encoding":{"x":{"datum":128,"type":"quantitative","axis":null},"y":{"datum":-6.7,"type":"quantitative","axis":null}}},
 {"data":{"values":[{}]},"mark":{"type":"text","text":"P","font":"Liberation Sans","fontWeight":"bold","fontSize":38,"align":"left","baseline":"alphabetic"},"encoding":{"x":{"datum":128,"type":"quantitative","axis":null},"y":{"datum":-6.7,"type":"quantitative","axis":null}}},
 {"data":{"values":[{}]},"mark":{"type":"text","text":"1","font":"Liberation Sans","fontWeight":"bold","fontSize":27,"align":"left","baseline":"alphabetic","dx":27,"dy":5},"encoding":{"x":{"datum":128,"type":"quantitative","axis":null},"y":{"datum":-6.7,"type":"quantitative","axis":null}}}
]},
{"width":252,"height":197,"resolve":{"axis":{"x":"independent","y":"independent"}},"layer":[
 {"data":{"name":"curves"},"transform":[{"filter":"datum.p === '3P1'"}],"mark":{"type":"line","clip":true,"interpolate":"monotone","strokeWidth":2.8,"color":"black"},
  "encoding":{"x":{"field":"x","type":"quantitative","scale":{"domain":[-2,312],"nice":false},"axis":{"orient":"bottom","values":[0,50,100,150,200,250,300],"labelExpr":"datum.value % 100 === 0 ? '' + datum.value : ''","title":"Lab. Energy (MeV)"}},
   "y":{"field":"y","type":"quantitative","scale":{"domain":[-50,11.4],"nice":false,"zero":false},"axis":{"orient":"left","values":[-40,-30,-20,-10,0,10],"labelExpr":"datum.value % 20 === 0 ? '' + datum.value : ''","title":"Phase Shift (deg)"}},
   "strokeDash":{"field":"s","type":"nominal","scale":{"domain":["solid","dashed","dotted"],"range":[[1,0],[16,8],[6,5]]},"legend":null}}},
 {"data":{"name":"pts"},"transform":[{"filter":"datum.p === '3P1' && datum.k !== 'filled'"}],"mark":{"type":"point","clip":true,"filled":true,"fill":"white","stroke":"black","strokeWidth":1.6,"size":115,"opacity":1},
  "encoding":{"x":{"field":"x","type":"quantitative","axis":null},"y":{"field":"y","type":"quantitative","axis":null},"shape":{"field":"k","type":"nominal","scale":{"domain":["circle","square"],"range":["circle","square"]},"legend":null}}},
 {"data":{"name":"pts"},"transform":[{"filter":"datum.p === '3P1' && datum.k === 'filled'"}],"mark":{"type":"point","clip":true,"filled":true,"fill":"black","size":130,"opacity":1},
  "encoding":{"x":{"field":"x","type":"quantitative","axis":{"orient":"top","values":[0,50,100,150,200,250,300],"labels":false,"title":null}},"y":{"field":"y","type":"quantitative","axis":{"orient":"right","values":[-40,-30,-20,-10,0,10],"labels":false,"title":null}}}},
 {"data":{"values":[{}]},"mark":{"type":"text","text":"3","font":"Liberation Sans","fontWeight":"bold","fontSize":22,"align":"right","baseline":"alphabetic","dx":-1,"dy":-26},"encoding":{"x":{"datum":126.7,"type":"quantitative","axis":null},"y":{"datum":-3.1,"type":"quantitative","axis":null}}},
 {"data":{"values":[{}]},"mark":{"type":"text","text":"P","font":"Liberation Sans","fontWeight":"bold","fontSize":38,"align":"left","baseline":"alphabetic"},"encoding":{"x":{"datum":126.7,"type":"quantitative","axis":null},"y":{"datum":-3.1,"type":"quantitative","axis":null}}},
 {"data":{"values":[{}]},"mark":{"type":"text","text":"1","font":"Liberation Sans","fontWeight":"bold","fontSize":27,"align":"left","baseline":"alphabetic","dx":27,"dy":5},"encoding":{"x":{"datum":126.7,"type":"quantitative","axis":null},"y":{"datum":-3.1,"type":"quantitative","axis":null}}}
]},
{"width":252,"height":197,"resolve":{"axis":{"x":"independent","y":"independent"}},"layer":[
 {"data":{"name":"curves"},"transform":[{"filter":"datum.p === '3D2'"}],"mark":{"type":"line","clip":true,"interpolate":"monotone","strokeWidth":2.8,"color":"black"},
  "encoding":{"x":{"field":"x","type":"quantitative","scale":{"domain":[-2,312],"nice":false},"axis":{"orient":"bottom","values":[0,50,100,150,200,250,300],"labelExpr":"datum.value % 100 === 0 ? '' + datum.value : ''","title":"Lab. Energy (MeV)"}},
   "y":{"field":"y","type":"quantitative","scale":{"domain":[-0.3,42.7],"nice":false,"zero":false},"axis":{"orient":"left","values":[0,5,10,15,20,25,30,35,40],"labelExpr":"datum.value % 10 === 0 ? '' + datum.value : ''","title":"Phase Shift (deg)"}},
   "strokeDash":{"field":"s","type":"nominal","scale":{"domain":["solid","dashed","dotted"],"range":[[1,0],[16,8],[6,5]]},"legend":null}}},
 {"data":{"name":"pts"},"transform":[{"filter":"datum.p === '3D2' && datum.k !== 'filled'"}],"mark":{"type":"point","clip":true,"filled":true,"fill":"white","stroke":"black","strokeWidth":1.6,"size":115,"opacity":1},
  "encoding":{"x":{"field":"x","type":"quantitative","axis":null},"y":{"field":"y","type":"quantitative","axis":null},"shape":{"field":"k","type":"nominal","scale":{"domain":["circle","square"],"range":["circle","square"]},"legend":null}}},
 {"data":{"name":"pts"},"transform":[{"filter":"datum.p === '3D2' && datum.k === 'filled'"}],"mark":{"type":"point","clip":true,"filled":true,"fill":"black","size":130,"opacity":1},
  "encoding":{"x":{"field":"x","type":"quantitative","axis":{"orient":"top","values":[0,50,100,150,200,250,300],"labels":false,"title":null}},"y":{"field":"y","type":"quantitative","axis":{"orient":"right","values":[0,5,10,15,20,25,30,35,40],"labels":false,"title":null}}}},
 {"data":{"values":[{}]},"mark":{"type":"text","text":"3","font":"Liberation Sans","fontWeight":"bold","fontSize":22,"align":"right","baseline":"alphabetic","dx":-1,"dy":-26},"encoding":{"x":{"datum":43,"type":"quantitative","axis":null},"y":{"datum":31.7,"type":"quantitative","axis":null}}},
 {"data":{"values":[{}]},"mark":{"type":"text","text":"D","font":"Liberation Sans","fontWeight":"bold","fontSize":38,"align":"left","baseline":"alphabetic"},"encoding":{"x":{"datum":43,"type":"quantitative","axis":null},"y":{"datum":31.7,"type":"quantitative","axis":null}}},
 {"data":{"values":[{}]},"mark":{"type":"text","text":"2","font":"Liberation Sans","fontWeight":"bold","fontSize":27,"align":"left","baseline":"alphabetic","dx":29,"dy":5},"encoding":{"x":{"datum":43,"type":"quantitative","axis":null},"y":{"datum":31.7,"type":"quantitative","axis":null}}}
]},
{"width":252,"height":197,"resolve":{"axis":{"x":"independent","y":"independent"}},"layer":[
 {"data":{"name":"curves"},"transform":[{"filter":"datum.p === '3P2'"}],"mark":{"type":"line","clip":true,"interpolate":"monotone","strokeWidth":2.8,"color":"black"},
  "encoding":{"x":{"field":"x","type":"quantitative","scale":{"domain":[-2,312],"nice":false},"axis":{"orient":"bottom","values":[0,50,100,150,200,250,300],"labelExpr":"datum.value % 100 === 0 ? '' + datum.value : ''","title":"Lab. Energy (MeV)"}},
   "y":{"field":"y","type":"quantitative","scale":{"domain":[-0.2,62.1],"nice":false,"zero":false},"axis":{"orient":"left","values":[0,10,20,30,40,50,60],"labelExpr":"datum.value % 20 === 0 ? '' + datum.value : ''","title":"Phase Shift (deg)"}},
   "strokeDash":{"field":"s","type":"nominal","scale":{"domain":["solid","dashed","dotted"],"range":[[1,0],[16,8],[6,5]]},"legend":null}}},
 {"data":{"name":"pts"},"transform":[{"filter":"datum.p === '3P2' && datum.k !== 'filled'"}],"mark":{"type":"point","clip":true,"filled":true,"fill":"white","stroke":"black","strokeWidth":1.6,"size":115,"opacity":1},
  "encoding":{"x":{"field":"x","type":"quantitative","axis":null},"y":{"field":"y","type":"quantitative","axis":null},"shape":{"field":"k","type":"nominal","scale":{"domain":["circle","square"],"range":["circle","square"]},"legend":null}}},
 {"data":{"name":"pts"},"transform":[{"filter":"datum.p === '3P2' && datum.k === 'filled'"}],"mark":{"type":"point","clip":true,"filled":true,"fill":"black","size":130,"opacity":1},
  "encoding":{"x":{"field":"x","type":"quantitative","axis":{"orient":"top","values":[0,50,100,150,200,250,300],"labels":false,"title":null}},"y":{"field":"y","type":"quantitative","axis":{"orient":"right","values":[0,10,20,30,40,50,60],"labels":false,"title":null}}}},
 {"data":{"values":[{}]},"mark":{"type":"text","text":"3","font":"Liberation Sans","fontWeight":"bold","fontSize":22,"align":"right","baseline":"alphabetic","dx":-1,"dy":-26},"encoding":{"x":{"datum":42.4,"type":"quantitative","axis":null},"y":{"datum":46.4,"type":"quantitative","axis":null}}},
 {"data":{"values":[{}]},"mark":{"type":"text","text":"P","font":"Liberation Sans","fontWeight":"bold","fontSize":38,"align":"left","baseline":"alphabetic"},"encoding":{"x":{"datum":42.4,"type":"quantitative","axis":null},"y":{"datum":46.4,"type":"quantitative","axis":null}}},
 {"data":{"values":[{}]},"mark":{"type":"text","text":"2","font":"Liberation Sans","fontWeight":"bold","fontSize":27,"align":"left","baseline":"alphabetic","dx":27,"dy":5},"encoding":{"x":{"datum":42.4,"type":"quantitative","axis":null},"y":{"datum":46.4,"type":"quantitative","axis":null}}}
]},
{"width":252,"height":197,"resolve":{"axis":{"x":"independent","y":"independent"}},"layer":[
 {"data":{"name":"curves"},"transform":[{"filter":"datum.p === '3S1'"}],"mark":{"type":"line","clip":true,"interpolate":"monotone","strokeWidth":2.8,"color":"black"},
  "encoding":{"x":{"field":"x","type":"quantitative","scale":{"domain":[-2,312],"nice":false},"axis":{"orient":"bottom","values":[0,50,100,150,200,250,300],"labelExpr":"datum.value % 100 === 0 ? '' + datum.value : ''","title":"Lab. Energy (MeV)"}},
   "y":{"field":"y","type":"quantitative","scale":{"domain":[-24,220],"nice":false,"zero":false},"axis":{"orient":"left","values":[0,25,50,75,100,125,150,175,200],"labelExpr":"datum.value % 50 === 0 ? '' + datum.value : ''","title":"Phase Shift (deg)"}},
   "strokeDash":{"field":"s","type":"nominal","scale":{"domain":["solid","dashed","dotted"],"range":[[1,0],[16,8],[6,5]]},"legend":null}}},
 {"data":{"name":"pts"},"transform":[{"filter":"datum.p === '3S1' && datum.k !== 'filled'"}],"mark":{"type":"point","clip":true,"filled":true,"fill":"white","stroke":"black","strokeWidth":1.6,"size":115,"opacity":1},
  "encoding":{"x":{"field":"x","type":"quantitative","axis":null},"y":{"field":"y","type":"quantitative","axis":null},"shape":{"field":"k","type":"nominal","scale":{"domain":["circle","square"],"range":["circle","square"]},"legend":null}}},
 {"data":{"name":"pts"},"transform":[{"filter":"datum.p === '3S1' && datum.k === 'filled'"}],"mark":{"type":"point","clip":true,"filled":true,"fill":"black","size":130,"opacity":1},
  "encoding":{"x":{"field":"x","type":"quantitative","axis":{"orient":"top","values":[0,50,100,150,200,250,300],"labels":false,"title":null}},"y":{"field":"y","type":"quantitative","axis":{"orient":"right","values":[0,25,50,75,100,125,150,175,200],"labels":false,"title":null}}}},
 {"data":{"values":[{}]},"mark":{"type":"text","text":"3","font":"Liberation Sans","fontWeight":"bold","fontSize":22,"align":"right","baseline":"alphabetic","dx":-1,"dy":-26},"encoding":{"x":{"datum":124,"type":"quantitative","axis":null},"y":{"datum":150.5,"type":"quantitative","axis":null}}},
 {"data":{"values":[{}]},"mark":{"type":"text","text":"S","font":"Liberation Sans","fontWeight":"bold","fontSize":38,"align":"left","baseline":"alphabetic"},"encoding":{"x":{"datum":124,"type":"quantitative","axis":null},"y":{"datum":150.5,"type":"quantitative","axis":null}}},
 {"data":{"values":[{}]},"mark":{"type":"text","text":"1","font":"Liberation Sans","fontWeight":"bold","fontSize":27,"align":"left","baseline":"alphabetic","dx":27,"dy":5},"encoding":{"x":{"datum":124,"type":"quantitative","axis":null},"y":{"datum":150.5,"type":"quantitative","axis":null}}}
]},
{"width":252,"height":197,"resolve":{"axis":{"x":"independent","y":"independent"}},"layer":[
 {"data":{"name":"curves"},"transform":[{"filter":"datum.p === '3D1'"}],"mark":{"type":"line","clip":true,"interpolate":"monotone","strokeWidth":2.8,"color":"black"},
  "encoding":{"x":{"field":"x","type":"quantitative","scale":{"domain":[-2,312],"nice":false},"axis":{"orient":"bottom","values":[0,50,100,150,200,250,300],"labelExpr":"datum.value % 100 === 0 ? '' + datum.value : ''","title":"Lab. Energy (MeV)"}},
   "y":{"field":"y","type":"quantitative","scale":{"domain":[-30.2,6.5],"nice":false,"zero":false},"axis":{"orient":"left","values":[-30,-25,-20,-15,-10,-5,0,5],"labelExpr":"datum.value % 10 === 0 ? '' + datum.value : ''","title":"Phase Shift (deg)"}},
   "strokeDash":{"field":"s","type":"nominal","scale":{"domain":["solid","dashed","dotted"],"range":[[1,0],[16,8],[6,5]]},"legend":null}}},
 {"data":{"name":"pts"},"transform":[{"filter":"datum.p === '3D1' && datum.k !== 'filled'"}],"mark":{"type":"point","clip":true,"filled":true,"fill":"white","stroke":"black","strokeWidth":1.6,"size":115,"opacity":1},
  "encoding":{"x":{"field":"x","type":"quantitative","axis":null},"y":{"field":"y","type":"quantitative","axis":null},"shape":{"field":"k","type":"nominal","scale":{"domain":["circle","square"],"range":["circle","square"]},"legend":null}}},
 {"data":{"name":"pts"},"transform":[{"filter":"datum.p === '3D1' && datum.k === 'filled'"}],"mark":{"type":"point","clip":true,"filled":true,"fill":"black","size":130,"opacity":1},
  "encoding":{"x":{"field":"x","type":"quantitative","axis":{"orient":"top","values":[0,50,100,150,200,250,300],"labels":false,"title":null}},"y":{"field":"y","type":"quantitative","axis":{"orient":"right","values":[-30,-25,-20,-15,-10,-5,0,5],"labels":false,"title":null}}}},
 {"data":{"values":[{}]},"mark":{"type":"text","text":"3","font":"Liberation Sans","fontWeight":"bold","fontSize":22,"align":"right","baseline":"alphabetic","dx":-1,"dy":-26},"encoding":{"x":{"datum":126,"type":"quantitative","axis":null},"y":{"datum":-3.6,"type":"quantitative","axis":null}}},
 {"data":{"values":[{}]},"mark":{"type":"text","text":"D","font":"Liberation Sans","fontWeight":"bold","fontSize":38,"align":"left","baseline":"alphabetic"},"encoding":{"x":{"datum":126,"type":"quantitative","axis":null},"y":{"datum":-3.6,"type":"quantitative","axis":null}}},
 {"data":{"values":[{}]},"mark":{"type":"text","text":"1","font":"Liberation Sans","fontWeight":"bold","fontSize":27,"align":"left","baseline":"alphabetic","dx":29,"dy":5},"encoding":{"x":{"datum":126,"type":"quantitative","axis":null},"y":{"datum":-3.6,"type":"quantitative","axis":null}}}
]},
{"width":252,"height":197,"resolve":{"axis":{"x":"independent","y":"independent"}},"layer":[
 {"data":{"name":"curves"},"transform":[{"filter":"datum.p === '3F2'"}],"mark":{"type":"line","clip":true,"interpolate":"monotone","strokeWidth":2.8,"color":"black"},
  "encoding":{"x":{"field":"x","type":"quantitative","scale":{"domain":[-2,312],"nice":false},"axis":{"orient":"bottom","values":[0,50,100,150,200,250,300],"labelExpr":"datum.value % 100 === 0 ? '' + datum.value : ''","title":"Lab. Energy (MeV)"}},
   "y":{"field":"y","type":"quantitative","scale":{"domain":[-0.03,3.72],"nice":false,"zero":false},"axis":{"orient":"left","values":[0,0.5,1,1.5,2,2.5,3,3.5],"labelExpr":"datum.value % 1 === 0 ? '' + datum.value : ''","title":"Phase Shift (deg)"}},
   "strokeDash":{"field":"s","type":"nominal","scale":{"domain":["solid","dashed","dotted"],"range":[[1,0],[16,8],[6,5]]},"legend":null}}},
 {"data":{"name":"pts"},"transform":[{"filter":"datum.p === '3F2' && isValid(datum.lo)"}],"mark":{"type":"rule","clip":true,"color":"black","strokeWidth":1.5},
  "encoding":{"x":{"field":"x","type":"quantitative","axis":null},"y":{"field":"lo","type":"quantitative","axis":null},"y2":{"field":"hi"}}},
 {"data":{"name":"pts"},"transform":[{"filter":"datum.p === '3F2' && isValid(datum.lo)"},{"fold":["lo","hi"],"as":["w","cy"]}],"mark":{"type":"point","clip":true,"shape":"M-1,0L1,0","size":121,"stroke":"black","strokeWidth":1.5,"opacity":1},
  "encoding":{"x":{"field":"x","type":"quantitative","axis":null},"y":{"field":"cy","type":"quantitative","axis":null}}},
 {"data":{"name":"pts"},"transform":[{"filter":"datum.p === '3F2' && datum.k !== 'filled'"}],"mark":{"type":"point","clip":true,"filled":true,"fill":"white","stroke":"black","strokeWidth":1.6,"size":115,"opacity":1},
  "encoding":{"x":{"field":"x","type":"quantitative","axis":null},"y":{"field":"y","type":"quantitative","axis":null},"shape":{"field":"k","type":"nominal","scale":{"domain":["circle","square"],"range":["circle","square"]},"legend":null}}},
 {"data":{"name":"pts"},"transform":[{"filter":"datum.p === '3F2' && datum.k === 'filled'"}],"mark":{"type":"point","clip":true,"filled":true,"fill":"black","size":130,"opacity":1},
  "encoding":{"x":{"field":"x","type":"quantitative","axis":{"orient":"top","values":[0,50,100,150,200,250,300],"labels":false,"title":null}},"y":{"field":"y","type":"quantitative","axis":{"orient":"right","values":[0,0.5,1,1.5,2,2.5,3,3.5],"labels":false,"title":null}}}},
 {"data":{"values":[{}]},"mark":{"type":"text","text":"3","font":"Liberation Sans","fontWeight":"bold","fontSize":22,"align":"right","baseline":"alphabetic","dx":-1,"dy":-26},"encoding":{"x":{"datum":43,"type":"quantitative","axis":null},"y":{"datum":2.66,"type":"quantitative","axis":null}}},
 {"data":{"values":[{}]},"mark":{"type":"text","text":"F","font":"Liberation Sans","fontWeight":"bold","fontSize":38,"align":"left","baseline":"alphabetic"},"encoding":{"x":{"datum":43,"type":"quantitative","axis":null},"y":{"datum":2.66,"type":"quantitative","axis":null}}},
 {"data":{"values":[{}]},"mark":{"type":"text","text":"2","font":"Liberation Sans","fontWeight":"bold","fontSize":27,"align":"left","baseline":"alphabetic","dx":25,"dy":5},"encoding":{"x":{"datum":43,"type":"quantitative","axis":null},"y":{"datum":2.66,"type":"quantitative","axis":null}}}
]},
{"width":252,"height":197,"resolve":{"axis":{"x":"independent","y":"independent"}},"layer":[
 {"data":{"name":"curves"},"transform":[{"filter":"datum.p === 'E2'"}],"mark":{"type":"line","clip":true,"interpolate":"monotone","strokeWidth":2.8,"color":"black"},
  "encoding":{"x":{"field":"x","type":"quantitative","scale":{"domain":[-2,312],"nice":false},"axis":{"orient":"bottom","values":[0,50,100,150,200,250,300],"labelExpr":"datum.value % 100 === 0 ? '' + datum.value : ''","title":"Lab. Energy (MeV)"}},
   "y":{"field":"y","type":"quantitative","scale":{"domain":[-3.02,0.67],"nice":false,"zero":false},"axis":{"orient":"left","values":[-3,-2.5,-2,-1.5,-1,-0.5,0,0.5],"labelExpr":"datum.value % 1 === 0 ? '' + datum.value : ''","title":"Mixing Parameter (deg)"}},
   "strokeDash":{"field":"s","type":"nominal","scale":{"domain":["solid","dashed","dotted"],"range":[[1,0],[16,8],[6,5]]},"legend":null}}},
 {"data":{"name":"pts"},"transform":[{"filter":"datum.p === 'E2' && datum.k !== 'filled'"}],"mark":{"type":"point","clip":true,"filled":true,"fill":"white","stroke":"black","strokeWidth":1.6,"size":115,"opacity":1},
  "encoding":{"x":{"field":"x","type":"quantitative","axis":null},"y":{"field":"y","type":"quantitative","axis":null},"shape":{"field":"k","type":"nominal","scale":{"domain":["circle","square"],"range":["circle","square"]},"legend":null}}},
 {"data":{"name":"pts"},"transform":[{"filter":"datum.p === 'E2' && datum.k === 'filled'"}],"mark":{"type":"point","clip":true,"filled":true,"fill":"black","size":130,"opacity":1},
  "encoding":{"x":{"field":"x","type":"quantitative","axis":{"orient":"top","values":[0,50,100,150,200,250,300],"labels":false,"title":null}},"y":{"field":"y","type":"quantitative","axis":{"orient":"right","values":[-3,-2.5,-2,-1.5,-1,-0.5,0,0.5],"labels":false,"title":null}}}},
 {"data":{"values":[{}]},"mark":{"type":"text","text":"ε","font":"Liberation Serif","fontSize":56,"align":"left","baseline":"alphabetic"},"encoding":{"x":{"datum":131,"type":"quantitative","axis":null},"y":{"datum":-0.33,"type":"quantitative","axis":null}}},
 {"data":{"values":[{}]},"mark":{"type":"text","text":"2","font":"Liberation Sans","fontWeight":"bold","fontSize":27,"align":"left","baseline":"alphabetic","dx":26,"dy":5},"encoding":{"x":{"datum":131,"type":"quantitative","axis":null},"y":{"datum":-0.33,"type":"quantitative","axis":null}}}
]}
],
"config": {
 "font": "Liberation Sans",
 "view": {"stroke": "black", "strokeWidth": 2},
 "axis": {"grid": false, "domain": false, "ticks": true, "tickSize": -6, "tickWidth": 1.5, "tickColor": "black", "labelFont": "Liberation Sans", "labelFontSize": 21, "labelFontWeight": "bold", "labelColor": "black", "titleFont": "Liberation Sans", "titleFontWeight": "bold", "titleColor": "black", "labelFlush": false, "labelOverlap": false, "labelPadding": 14},
 "axisBottom": {"titleFontSize": 23, "titlePadding": 2},
 "axisLeft": {"titleFontSize": 20, "titlePadding": 19}
}
}
